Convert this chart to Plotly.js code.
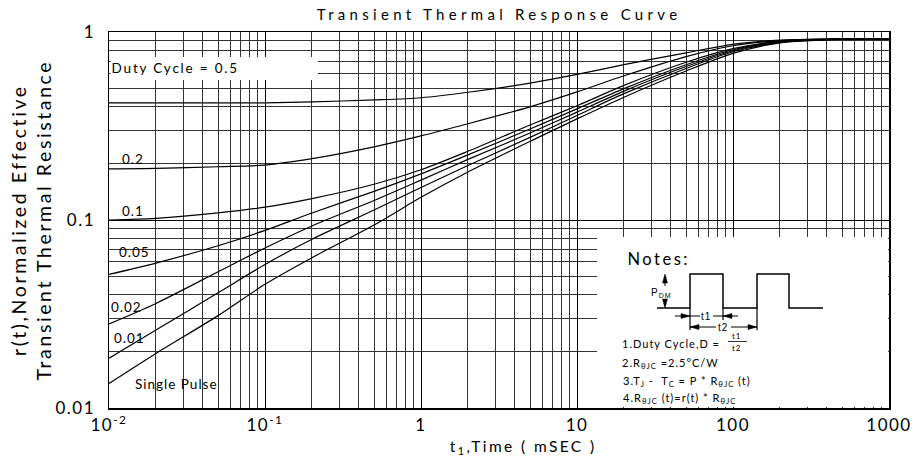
<!DOCTYPE html>
<html><head><meta charset="utf-8">
<script src="https://cdn.plot.ly/plotly-3.0.1.min.js"></script>
<style>
html,body{margin:0;padding:0;background:#fff}
#chart{width:915px;height:459px}
.gtitle{letter-spacing:4.3px}
.xtick text,.ytick text{letter-spacing:1.5px}
.annotation-text{letter-spacing:1px}
g.annotation[data-index="0"] text{letter-spacing:1.8px}
g.annotation[data-index="7"] text{letter-spacing:2.4px}
g.annotation[data-index="8"] text{letter-spacing:2.6px}
g.annotation[data-index="9"] text{letter-spacing:2.5px}
</style></head><body><div id="chart"></div>
<script>
// time axis (ms)
const tMs = [0.01,0.02,0.05,0.1,0.2,0.5,1,2,5,10,20,50,100,200,500,1000];
// normalized transient thermal resistance per duty cycle
const rD050 = [0.42,0.42,0.42,0.42,0.425,0.435,0.447,0.478,0.535,0.595,0.67,0.775,0.86,0.905,0.92,0.92];
const rD020 = [0.187,0.188,0.192,0.196,0.212,0.245,0.28,0.325,0.40,0.48,0.585,0.74,0.845,0.9,0.92,0.92];
const rD010 = [0.100,0.102,0.109,0.117,0.13,0.155,0.185,0.232,0.32,0.405,0.52,0.69,0.815,0.895,0.92,0.92];
const rD005 = [0.0514,0.059,0.073,0.088,0.109,0.142,0.176,0.222,0.305,0.39,0.50,0.67,0.805,0.89,0.918,0.92];
const rD002 = [0.028,0.036,0.053,0.071,0.093,0.127,0.163,0.21,0.29,0.375,0.485,0.655,0.795,0.885,0.918,0.92];
const rD001 = [0.0184,0.026,0.041,0.058,0.079,0.113,0.149,0.195,0.275,0.36,0.47,0.64,0.785,0.88,0.916,0.92];
const rSingle = [0.0135,0.0195,0.031,0.0455,0.063,0.094,0.132,0.18,0.262,0.345,0.45,0.62,0.77,0.875,0.915,0.92];
const seriesNames = ["D=0.5","D=0.2","D=0.1","D=0.05","D=0.02","D=0.01","Single Pulse"];
const curveLabels = ["Duty Cycle = 0.5","0.2","0.1","0.05","0.02","0.01","Single Pulse"];
const xTickVals = [0.01,0.1,1,10,100,1000];
const xTickText = ["10<sup>-2</sup>","10<sup>-1</sup>","1","10","100","1000"];
const yTickVals = [0.01,0.1,1];
const yTickText = ["0.01","0.1","1"];

const allSeries = [rD050,rD020,rD010,rD005,rD002,rD001,rSingle];
const traces = allSeries.map((r,i)=>({
  x:tMs, y:r, type:'scatter', mode:'lines', name:seriesNames[i],
  line:{color:'#000', width:1.2, shape:'spline', smoothing:0.8},
  hoverinfo:'skip', showlegend:false
}));

// plot-area pixel helpers (left 109, right 889, top 32, bottom 408)
const L=109, R=889, T=32, B=408;
const PX = px => (px-L)/(R-L);
const PY = py => (B-py)/(B-T);

function minorVals(d0,d1){const a=[];for(let d=d0;d<d1;d++){for(let k=2;k<=9;k++)a.push(k*Math.pow(10,d));}return a;}

const shapes = [];
// label backdrop for duty cycle 0.5
shapes.push({type:'rect',xref:'paper',yref:'paper',x0:PX(110.5),x1:PX(318),y0:PY(80),y1:PY(57),fillcolor:'#fff',line:{width:0},layer:'above'});
// notes box
shapes.push({type:'rect',xref:'paper',yref:'paper',x0:PX(597),x1:PX(888),y0:PY(407),y1:PY(237),fillcolor:'#fff',line:{width:0},layer:'above'});

function seg(x0,y0,x1,y1,w){shapes.push({type:'line',xref:'paper',yref:'paper',x0:PX(x0),y0:PY(y0),x1:PX(x1),y1:PY(y1),line:{color:'#000',width:w||1.3},layer:'above'});}
function pathPx(pts,closed,fill){
  let s=pts.map((p,i)=>(i?'L':'M')+PX(p[0]).toFixed(5)+','+PY(p[1]).toFixed(5)).join(' ');
  if(closed)s+=' Z';
  shapes.push({type:'path',xref:'paper',yref:'paper',path:s,line:{color:'#000',width:fill?0.5:1.5},fillcolor:fill?'#000':'rgba(0,0,0,0)',layer:'above'});
}
function arrow(tx,ty,dir){
  const len=9,hw=2.5;let p;
  if(dir==='r')p=[[tx,ty],[tx-len,ty-hw],[tx-len,ty+hw]];
  if(dir==='l')p=[[tx,ty],[tx+len,ty-hw],[tx+len,ty+hw]];
  if(dir==='u')p=[[tx,ty],[tx-hw,ty+len],[tx+hw,ty+len]];
  if(dir==='d')p=[[tx,ty],[tx-hw,ty-len],[tx+hw,ty-len]];
  pathPx(p,true,true);
}
// pulse train
pathPx([[657,308],[690,308],[690,274],[723,274],[723,308],[757,308],[757,274],[789,274],[789,308],[823,308]],false,false);
// extension lines
seg(690,308,690,330,1.2); seg(757,308,757,330,1.2); seg(723,308,723,320,1.2);
// PDM arrow
seg(665,276,665,286,1); seg(665,300,665,306,1);
arrow(665,274,'u'); arrow(665,308,'d');
// t1 dimension
seg(675,316,700,316,1); seg(713,316,738,316,1);
arrow(690,316,'r'); arrow(723,316,'l');
// t2 dimension
seg(690,327,716,327,1); seg(731,327,757,327,1);
arrow(690,327,'l'); arrow(757,327,'r');
// fraction bar
seg(728,341.5,747,341.5,0.8);

const fontMain = 'Lato, "Open Sans", sans-serif';
const ann = [];
function txt(text,px,py,size,anchor,extra){ann.push(Object.assign({text:text,xref:'paper',yref:'paper',x:PX(px),y:PY(py),xanchor:anchor||'left',yanchor:'middle',showarrow:false,font:{family:fontMain,size:size,color:'#000'}},extra||{}));}
// curve labels (indices 0-6)
const labelPos = [[116,68],[120,159],[120,211],[117,252],[109,307],[112,338],[133,384]];
curveLabels.forEach((s,i)=>txt(s,labelPos[i][0],labelPos[i][1],13.5));
// axis titles (7, 8)
txt('t<sub>1</sub>,Time ( mSEC )',523,447,15.5,'center');
txt('r(t),Normalized Effective<br>Transient Thermal Resistance',31,220,19.5,'center',{textangle:-90});
// notes (9...)
txt('Notes:',630,259,16.5);
const small = {font:{family:'Liberation Sans, Arial, sans-serif',size:10,color:'#000'}};
txt('P<sub>DM</sub>',661,293,10,'center',small);
txt('t1',706,316,10,'center',small);
txt('t2',723,327,10,'center',small);
txt('1.Duty Cycle,D =',620,343,11);
txt('t1',737,336,8,'center');
txt('t2',737,348,8,'center');
txt('2.R<sub>θJC</sub> =2.5°C/W',620,363,11);
txt('3.T<sub>J</sub> -  T<sub>C</sub> = P * R<sub>θJC</sub> (t)',621,381,11);
txt('4.R<sub>θJC</sub> (t)=r(t) * R<sub>θJC</sub>',621,398,11);

const layout = {
  width:915, height:459,
  margin:{l:L, r:915-R, t:T, b:459-B},
  paper_bgcolor:'#fff', plot_bgcolor:'#fff',
  title:{text:'Transient Thermal Response Curve', x:0.5, xref:'paper', y:1-15/459, yanchor:'middle', font:{family:fontMain,size:15,color:'#000'}},
  xaxis:{type:'log', range:[-2,3], tickmode:'array', tickvals:xTickVals, ticktext:xTickText, ticks:'', ticklabelstandoff:1,
    showgrid:true, gridcolor:'#000', gridwidth:1, showline:true, mirror:true, linecolor:'#000', linewidth:1.5, zeroline:false,
    tickfont:{family:fontMain,size:17,color:'#000'},
    minor:{tickmode:'array', tickvals:minorVals(-2,3), showgrid:true, gridcolor:'#333', gridwidth:1, ticks:''}},
  yaxis:{type:'log', range:[-2,0], tickmode:'array', tickvals:yTickVals, ticktext:yTickText, ticks:'', ticklabelstandoff:9,
    showgrid:true, gridcolor:'#000', gridwidth:1, showline:true, mirror:true, linecolor:'#000', linewidth:1.5, zeroline:false,
    tickfont:{family:fontMain,size:17,color:'#000'},
    minor:{tickmode:'array', tickvals:minorVals(-2,0), showgrid:true, gridcolor:'#333', gridwidth:1, ticks:''}},
  shapes:shapes, annotations:ann, showlegend:false
};
Plotly.newPlot('chart', traces, layout, {displayModeBar:false, staticPlot:true});
</script></body></html>
